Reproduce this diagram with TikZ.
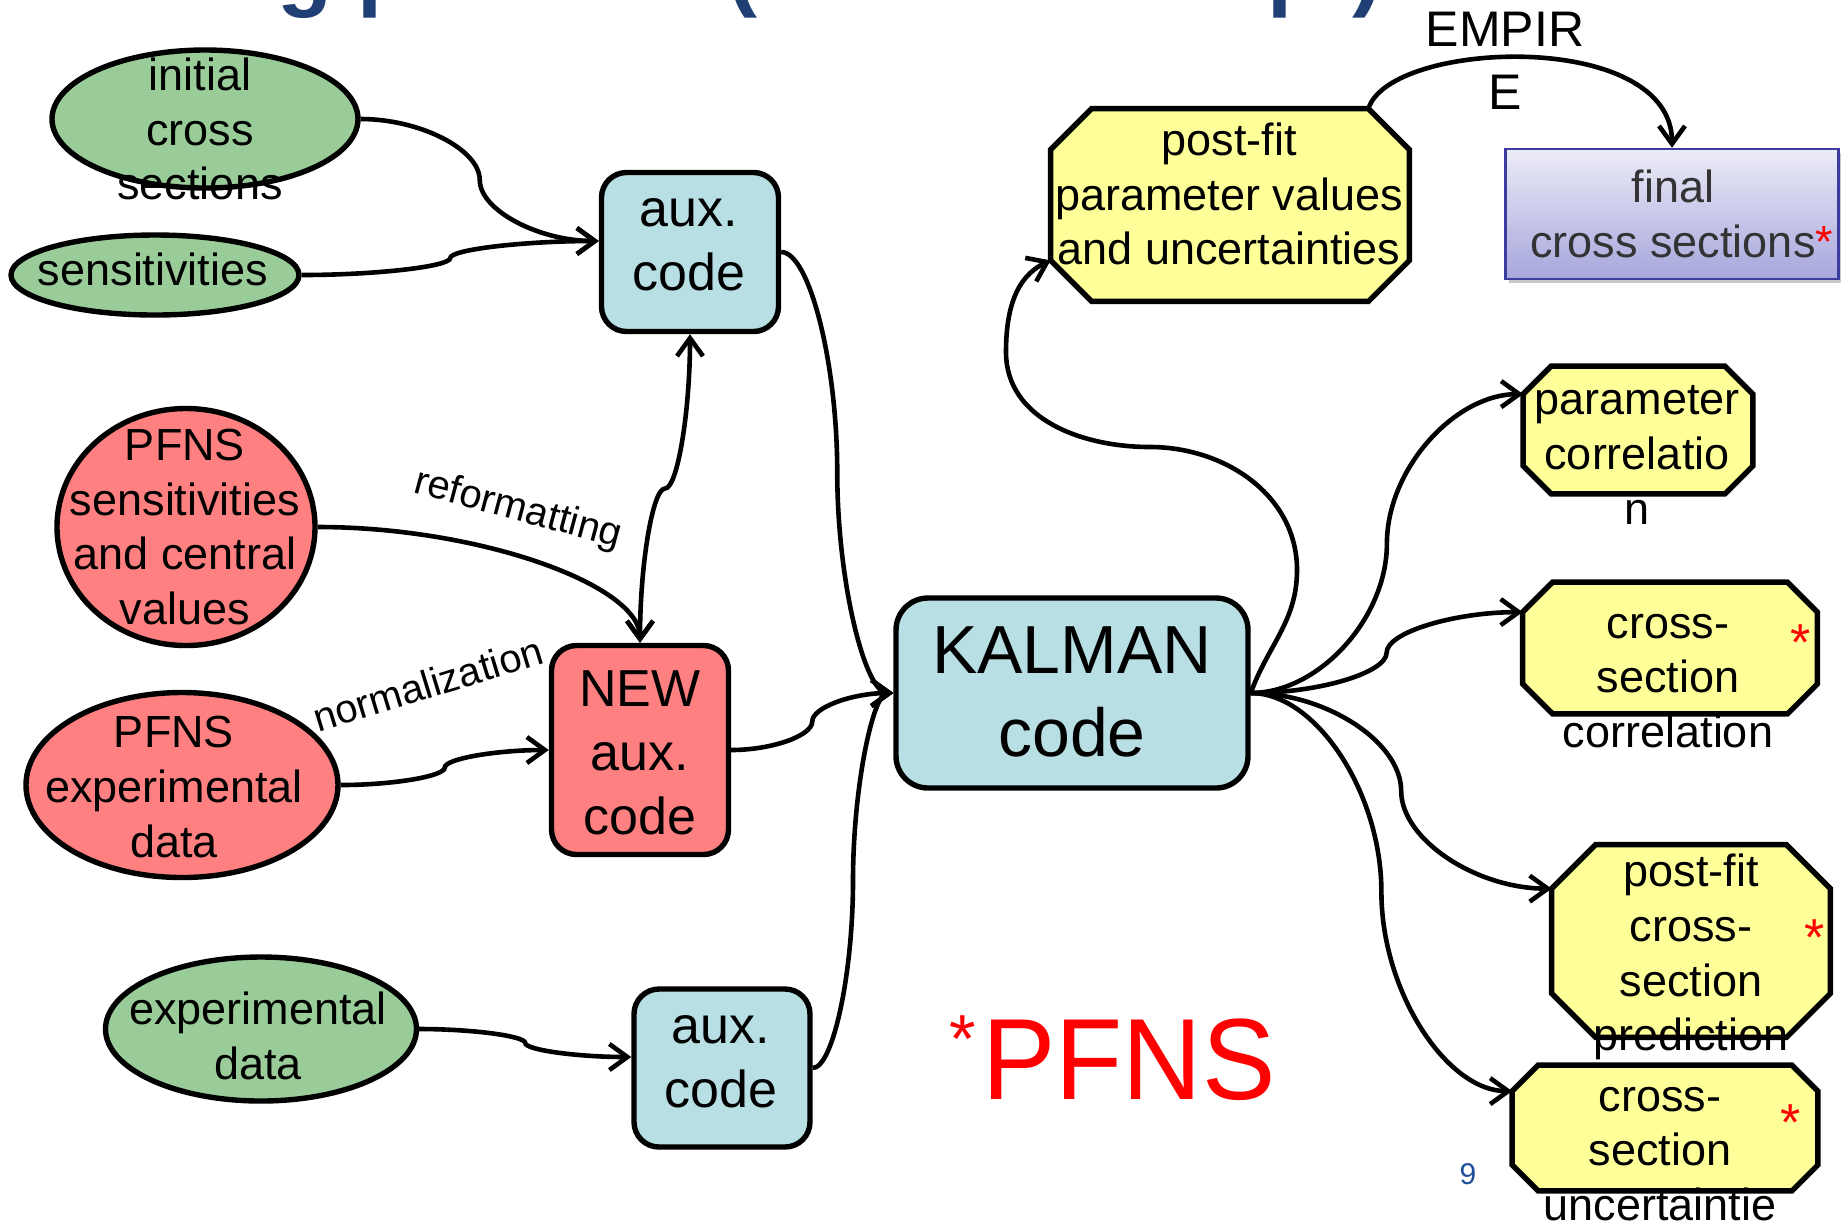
\documentclass[tikz,border=0pt]{standalone}
\usepackage{fontspec}
\setmainfont{Liberation Sans}
\usetikzlibrary{shapes.geometric,arrows.meta,calc,shadows}
\definecolor{gfill}{HTML}{99CC99}
\definecolor{rfill}{HTML}{FF8080}
\definecolor{bfill}{HTML}{B8DFE3}
\definecolor{yfill}{HTML}{FFFF99}
\definecolor{titleblue}{HTML}{1F3F75}
\definecolor{finaltop}{HTML}{ECECF8}
\definecolor{finalbot}{HTML}{A6A6DC}
\definecolor{finalline}{HTML}{3C3CA0}
\definecolor{pageblue}{HTML}{1F4E9A}
\newcommand\myoct[2]{%
  \draw[octline] ($(#1.north west)+(#2,0)$) -- ($(#1.north east)+(-#2,0)$) -- ($(#1.north east)+(0,-#2)$) -- ($(#1.south east)+(0,#2)$) -- ($(#1.south east)+(-#2,0)$) -- ($(#1.south west)+(#2,0)$) -- ($(#1.south west)+(0,#2)$) -- ($(#1.north west)+(0,-#2)$) -- cycle;}
\newcommand\myh[3][]{%
  \draw[conn,#1] let \p1=#2, \p2=#3 in
    (\p1) .. controls ({\x1+0.25*(\x2-\x1)},\y1) and ({\x1+0.5*(\x2-\x1)},{\y1+0.25*(\y2-\y1)}) ..
    ({\x1+0.5*(\x2-\x1)},{\y1+0.5*(\y2-\y1)}) .. controls ({\x1+0.5*(\x2-\x1)},{\y1+0.75*(\y2-\y1)}) and ({\x1+0.75*(\x2-\x1)},\y2) .. (\p2);}
\newcommand\myv[3][]{%
  \draw[conn,#1] let \p1=#2, \p2=#3 in
    (\p1) .. controls (\x1,{\y1+0.25*(\y2-\y1)}) and ({\x1+0.25*(\x2-\x1)},{\y1+0.5*(\y2-\y1)}) ..
    ({\x1+0.5*(\x2-\x1)},{\y1+0.5*(\y2-\y1)}) .. controls ({\x1+0.75*(\x2-\x1)},{\y1+0.5*(\y2-\y1)}) and (\x2,{\y1+0.75*(\y2-\y1)}) .. (\p2);}
\newcommand\myl[3][]{%
  \draw[conn,#1] let \p1=#2, \p2=#3 in
    (\p1) .. controls ({\x1+0.5*(\x2-\x1)},\y1) and (\x2,{\y1+0.5*(\y2-\y1)}) .. (\p2);}
\begin{document}
\begin{tikzpicture}[x=0.5pt,y=0.5pt,
  >={Straight Barb[length=9pt,width=13pt]},
  ell/.style={ellipse, draw, line width=2.7pt, inner sep=0pt},
  greenell/.style={ell, fill=gfill},
  redell/.style={ell, fill=rfill},
  rbox/.style={rectangle, rounded corners=12.5pt, draw, line width=2.7pt, inner sep=0pt},
  octbox/.style={rectangle, inner sep=0pt, draw=none},
  octline/.style={draw, fill=yfill, line width=2.7pt},
  conn/.style={line width=2.3pt, ->},
  body/.style={font=\fontsize{22.5}{27.4}\selectfont, align=center, inner sep=0pt},
  big/.style={font=\fontsize{26}{32}\selectfont, align=center, inner sep=0pt},
  kalf/.style={font=\fontsize{34}{41.5}\selectfont, align=center, inner sep=0pt},
  lbl/.style={font=\fontsize{20}{24}\selectfont, inner sep=0pt},
  star/.style={font=\fontsize{26}{26}\selectfont, text=red, inner sep=0pt}]
\useasboundingbox (0,0) rectangle (1841,-1223);
\clip (0,0) rectangle (1841,-1223);
\fill[white] (0,0) rectangle (1841,-1223);
% title (cut off at the top)
\node[anchor=base west, inner sep=0pt, text=titleblue, font=\fontsize{45}{54}\selectfont\bfseries] (title) at (57,1) {Fitting process (Kalman script)};
% shapes
\node[greenell, minimum width=153pt, minimum height=69pt] (init) at (205,-119) {};
\node[greenell, minimum width=144pt, minimum height=40pt] (sens) at (155,-275) {};
\node[redell, minimum width=129pt, minimum height=118.5pt] (pfnsS) at (186,-527) {};
\node[redell, minimum width=156pt, minimum height=92.5pt] (pfnsE) at (182,-785) {};
\node[greenell, minimum width=155.5pt, minimum height=72pt] (expd) at (261,-1029) {};
\node[rbox, fill=bfill, minimum width=88.5pt, minimum height=79.5pt] (auxT) at (690,-252) {};
\node[rbox, fill=rfill, minimum width=88.5pt, minimum height=104.5pt] (newA) at (640,-750) {};
\node[rbox, fill=bfill, minimum width=88pt, minimum height=79pt] (auxB) at (722,-1068) {};
\node[rbox, fill=bfill, rounded corners=16pt, minimum width=176pt, minimum height=95pt] (kal) at (1072,-693) {};
\node[octbox, minimum width=179pt, minimum height=96pt] (pfv) at (1230,-205) {};
\node[octbox, minimum width=114.5pt, minimum height=63.5pt] (pc) at (1638,-430) {};
\node[octbox, minimum width=147pt, minimum height=65.5pt] (csc) at (1670,-648) {};
\node[octbox, minimum width=139pt, minimum height=96pt] (pfp) at (1691,-941) {};
\node[octbox, minimum width=152.5pt, minimum height=62.5pt] (csu) at (1665,-1128) {};
\myoct{pfv}{41}
\myoct{pc}{28}
\myoct{csc}{30}
\myoct{pfp}{44}
\myoct{csu}{26}
\node[draw=finalline, line width=1.2pt, top color=finaltop, bottom color=finalbot,
  drop shadow={shadow xshift=1.5pt, shadow yshift=-2pt, fill=black!35, opacity=0.6},
  minimum width=166.5pt, minimum height=65pt, inner sep=0pt] (final) at (1672,-214) {};
% connectors
\myh{(init.east)}{([yshift=5.5pt]auxT.west)}
\myh{(sens.east)}{([yshift=5.5pt]auxT.west)}
\myh{(auxT.east)}{(kal.west)}
\myh{(newA.east)}{(kal.west)}
\myh{(auxB.east)}{(kal.west)}
\myl{(pfnsS.east)}{(newA.north)}
\myv[<->]{(auxT.south)}{(newA.north)}
\myh{(pfnsE.east)}{(newA.west)}
\myh{(expd.east)}{([yshift=5.5pt]auxB.west)}
\myh{(kal.east)}{($(pc.north west)+(0,-28)$)}
\myh{(kal.east)}{($(csc.north west)+(0,-30)$)}
\myh{(kal.east)}{($(pfp.north west)+(0,-44)$)}
\myh{(kal.east)}{($(csu.north west)+(0,-26)$)}
\coordinate (k1) at (1297,-570);
\coordinate (k2) at (1150,-447);
\coordinate (k3) at (1006,-352);
\draw[conn] (kal.east) to[out=70,in=-90] (k1) to[out=90,in=0] (k2) to[out=180,in=-90] (k3) to[out=90,in=205] ($(pfv.south west)+(0,41)$);
\draw[conn] ($(pfv.north east)+(-41,0)$) .. controls +(22,69) and +(0,119) .. (final.north);
% labels
\node[lbl, rotate=-15] (reform) at (518,-510) {reformatting};
\node[lbl, rotate=17] (normal) at (428,-684) {normalization};
% texts
\node[body] (initT) at (200,-129) {initial\\cross\\sections};
\node[body] (sensT) at (153,-269) {sensitivities};
\node[big] (auxTT) at (689,-245) {aux.\\code};
\node[body] (pfnsST) at (185,-527) {PFNS\\sensitivities\\and central\\values};
\node[body] (pfnsET) at (174,-787) {PFNS\\experimental\\data};
\node[body] (expdT) at (258,-1036) {experimental\\data};
\node[big] (newAT) at (640,-753) {NEW\\aux.\\code};
\node[big] (auxBT) at (721,-1062) {aux.\\code};
\node[kalf] (kalT) at (1072,-691.5) {KALMAN\\code};
\node[body] (pfvT) at (1229,-194) {post-fit\\parameter values\\and uncertainties};
\node[body, text=black!80] (finalT) at (1673,-214) {final\\cross sections\rlap{\textcolor{red}{*}}};
\node[body] (pcT) at (1637,-455) {parameter\\correlatio\\n};
\node[body] (cscT) at (1668,-681) {cross-\\section\\correlation};
\node[body] (pfpT) at (1691,-957) {post-fit\\cross-\\section\\prediction};
\node[body] (csuT) at (1660,-1154) {cross-\\section\\uncertaintie};
\node[font=\fontsize{25}{31.5}\selectfont, align=center, inner sep=0pt] (empT) at (1505,-61) {EMPIR\\E};
\node[star] (s1) at (1801,-643) {*};
\node[star] (s2) at (1815,-938) {*};
\node[star] (s3) at (1791,-1123) {*};
\node[font=\fontsize{55}{60}\selectfont, text=red, inner sep=0pt, yscale=1.05, transform shape] (pfnsBig) at (1129,-1060) {PFNS};
\node[font=\fontsize{34}{34}\selectfont, text=red, inner sep=0pt] (pfnsStar) at (963,-1039) {*};
\node[font=\fontsize{15}{18}\selectfont, text=pageblue, inner sep=0pt] (pagenum) at (1468,-1174) {9};
\end{tikzpicture}
\end{document}
